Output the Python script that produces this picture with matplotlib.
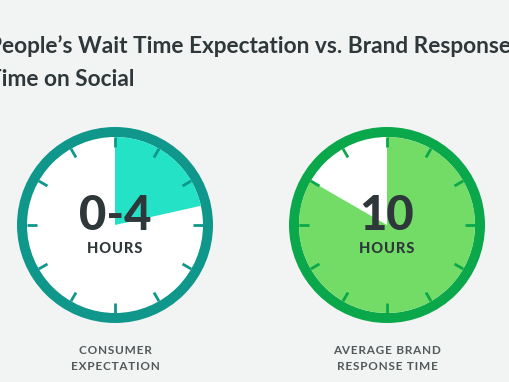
import math

import matplotlib.pyplot as plt
from matplotlib.patches import Circle, Wedge

title_lines = ["People\u2019s Wait Time Expectation vs. Brand Response", "Time on Social"]
values = ["0-4", "10"]
units = ["HOURS", "HOURS"]
labels = [["CONSUMER", "EXPECTATION"], ["AVERAGE BRAND", "RESPONSE TIME"]]
# filled share of the dial, clockwise from 12 o'clock
fill_share = [0.215, 10 / 12]
n_ticks = 12

ring_colors = ["#0f978b", "#0ba84b"]
fill_colors = ["#24e2c6", "#72dc66"]
rest_colors = ["#ffffff", "#ffffff"]
text_color = "#2e3739"
label_color = "#52595a"
bg = "#f2f3f3"

W, H = 510, 382


def spaced(s, gap="\u200a"):
    return gap.join(s)


fig = plt.figure(figsize=(W / 100, H / 100), dpi=100, facecolor=bg)
ax = fig.add_axes([0, 0, 1, 1])
ax.set_xlim(0, W)
ax.set_ylim(H, 0)
ax.set_aspect("equal")
ax.axis("off")

fam = ["Lato", "DejaVu Sans"]

# the title runs off the left edge in the original
ax.text(-12, 46, title_lines[0], fontsize=16.3, fontweight="bold", color=text_color,
        family=fam, va="center", ha="left")
ax.text(-12, 79, title_lines[1], fontsize=16.3, fontweight="bold", color=text_color,
        family=fam, va="center", ha="left")

centers = [(115, 225), (387, 225)]
r_out, r_in = 98, 88

for i, (cx, cy) in enumerate(centers):
    ax.add_patch(Circle((cx, cy), r_out, color=ring_colors[i], lw=0))
    ax.add_patch(Circle((cx, cy), r_in, color=rest_colors[i], lw=0))
    # y axis is inverted, so angles run clockwise on screen
    start = -90
    end = -90 + 360 * fill_share[i]
    ax.add_patch(Wedge((cx, cy), r_in, start, end, color=fill_colors[i], lw=0))
    for k in range(n_ticks):
        a = math.radians(k * 360 / n_ticks)
        ax.plot([cx + r_in * math.sin(a), cx + (r_in - 10) * math.sin(a)],
                [cy - r_in * math.cos(a), cy - (r_in - 10) * math.cos(a)],
                color=ring_colors[i], lw=2.0, solid_capstyle="butt")
    ax.text(cx, 216, values[i], fontsize=34, fontweight="black", color=text_color,
            family=fam, ha="center", va="center")
    ax.text(cx, 249, spaced(units[i]), fontsize=10.5, fontweight="black", color=text_color,
            family=fam, ha="center", va="center")
    for j, line in enumerate(labels[i]):
        ax.text(cx, 350 + j * 16, spaced(line), fontsize=8.5, color=label_color,
                family=fam, ha="center", va="center", fontweight="bold")

fig.savefig("out.png", dpi=100, facecolor=bg)
